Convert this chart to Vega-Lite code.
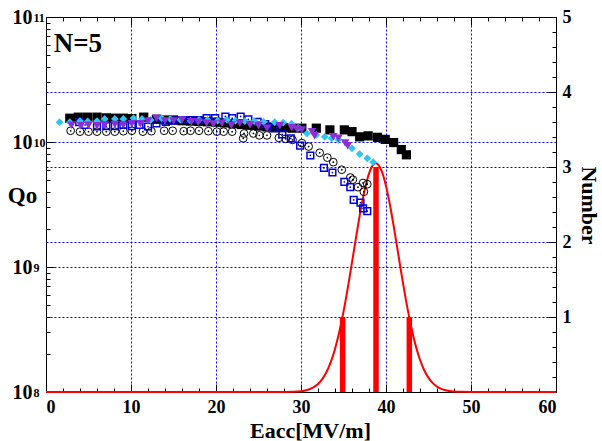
{
  "$schema": "https://vega.github.io/schema/vega-lite/v6.json",
  "width": 510,
  "height": 375,
  "autosize": {"type": "none"},
  "padding": {"left": 46, "top": 17, "right": 46, "bottom": 49},
  "background": "white",
  "config": {
    "view": {"stroke": "black", "strokeWidth": 1},
    "axis": {
      "labelFont": "Liberation Serif", "labelFontWeight": "bold", "labelColor": "black", "labelFontSize": 18,
      "titleFont": "Liberation Serif", "titleFontWeight": "bold", "titleColor": "black", "titleFontSize": 23,
      "tickColor": "black", "tickWidth": 1, "domain": false,
      "gridColor": "#0000ff", "gridDash": [2, 2], "gridWidth": 1, "gridOpacity": 1
    }
  },
  "datasets": {
    "sq": [
      {"E": 2.8, "Q": 1.55e10}, {"E": 3.8, "Q": 1.58e10}, {"E": 4.9, "Q": 1.58e10}, {"E": 6.0, "Q": 1.58e10},
      {"E": 7.1, "Q": 1.56e10}, {"E": 8.1, "Q": 1.55e10}, {"E": 9.1, "Q": 1.55e10}, {"E": 10.1, "Q": 1.54e10},
      {"E": 11.5, "Q": 1.58e10}, {"E": 13.0, "Q": 1.52e10}, {"E": 14.1, "Q": 1.5e10}, {"E": 15.0, "Q": 1.5e10},
      {"E": 16.0, "Q": 1.48e10}, {"E": 17.0, "Q": 1.47e10}, {"E": 18.0, "Q": 1.46e10}, {"E": 19.0, "Q": 1.45e10},
      {"E": 20.0, "Q": 1.44e10}, {"E": 21.0, "Q": 1.42e10}, {"E": 22.0, "Q": 1.4e10}, {"E": 23.0, "Q": 1.38e10},
      {"E": 24.0, "Q": 1.36e10}, {"E": 25.0, "Q": 1.34e10}, {"E": 26.0, "Q": 1.32e10}, {"E": 27.0, "Q": 1.3e10},
      {"E": 28.0, "Q": 1.3e10}, {"E": 29.0, "Q": 1.29e10}, {"E": 30.1, "Q": 1.29e10}, {"E": 31.8, "Q": 1.29e10},
      {"E": 33.4, "Q": 1.25e10}, {"E": 35.1, "Q": 1.25e10}, {"E": 36.0, "Q": 1.21e10}, {"E": 36.9, "Q": 1.1e10},
      {"E": 37.9, "Q": 1.12e10}, {"E": 39.0, "Q": 1.09e10}, {"E": 39.9, "Q": 1.05e10}, {"E": 40.9, "Q": 9.9e9},
      {"E": 41.8, "Q": 8.7e9}, {"E": 42.4, "Q": 7.9e9}
    ],
    "circ": [
      {"E": 2.9, "Q": 1.23e10}, {"E": 4.0, "Q": 1.21e10}, {"E": 5.0, "Q": 1.21e10}, {"E": 6.0, "Q": 1.21e10},
      {"E": 7.1, "Q": 1.21e10}, {"E": 8.1, "Q": 1.21e10}, {"E": 9.1, "Q": 1.22e10}, {"E": 10.1, "Q": 1.23e10},
      {"E": 11.4, "Q": 1.21e10}, {"E": 12.4, "Q": 1.22e10}, {"E": 13.9, "Q": 1.23e10}, {"E": 14.9, "Q": 1.23e10},
      {"E": 16.2, "Q": 1.22e10}, {"E": 17.0, "Q": 1.23e10}, {"E": 18.0, "Q": 1.23e10}, {"E": 19.1, "Q": 1.22e10},
      {"E": 20.1, "Q": 1.21e10}, {"E": 20.9, "Q": 1.21e10}, {"E": 21.9, "Q": 1.21e10}, {"E": 23.2, "Q": 1.07e10},
      {"E": 23.3, "Q": 1.17e10}, {"E": 24.4, "Q": 1.17e10}, {"E": 25.1, "Q": 1.13e10}, {"E": 26.0, "Q": 1.13e10},
      {"E": 27.4, "Q": 1.08e10}, {"E": 28.2, "Q": 1.06e10}, {"E": 29.0, "Q": 1.04e10}, {"E": 30.1, "Q": 9.8e9},
      {"E": 30.9, "Q": 9.2e9}, {"E": 32.2, "Q": 8.2e9}, {"E": 33.1, "Q": 7.5e9}, {"E": 33.8, "Q": 6.9e9},
      {"E": 34.8, "Q": 6.0e9}, {"E": 35.8, "Q": 5.2e9}, {"E": 36.1, "Q": 5.0e9}, {"E": 36.7, "Q": 4.35e9},
      {"E": 37.3, "Q": 4.7e9}, {"E": 37.8, "Q": 4.6e9}, {"E": 37.4, "Q": 4.0e9}
    ],
    "bsq": [
      {"E": 3.9, "Q": 1.44e10}, {"E": 4.6, "Q": 1.37e10}, {"E": 6.0, "Q": 1.33e10}, {"E": 7.1, "Q": 1.34e10},
      {"E": 8.1, "Q": 1.34e10}, {"E": 9.1, "Q": 1.37e10}, {"E": 10.1, "Q": 1.34e10}, {"E": 11.0, "Q": 1.37e10},
      {"E": 12.0, "Q": 1.33e10}, {"E": 13.0, "Q": 1.41e10}, {"E": 14.1, "Q": 1.45e10}, {"E": 15.0, "Q": 1.48e10},
      {"E": 16.1, "Q": 1.5e10}, {"E": 17.1, "Q": 1.5e10}, {"E": 18.0, "Q": 1.5e10}, {"E": 18.9, "Q": 1.55e10},
      {"E": 19.9, "Q": 1.55e10}, {"E": 21.1, "Q": 1.6e10}, {"E": 21.9, "Q": 1.55e10}, {"E": 22.9, "Q": 1.6e10},
      {"E": 23.8, "Q": 1.52e10}, {"E": 24.9, "Q": 1.45e10}, {"E": 25.8, "Q": 1.39e10}, {"E": 26.8, "Q": 1.29e10},
      {"E": 27.8, "Q": 1.15e10}, {"E": 28.8, "Q": 1.07e10}, {"E": 29.9, "Q": 9.35e9}, {"E": 31.1, "Q": 7.8e9},
      {"E": 32.7, "Q": 6.2e9}, {"E": 33.7, "Q": 5.7e9}, {"E": 35.1, "Q": 4.8e9}, {"E": 35.8, "Q": 4.35e9},
      {"E": 36.2, "Q": 3.44e9}, {"E": 37.0, "Q": 3.27e9}, {"E": 37.3, "Q": 2.95e9}, {"E": 37.8, "Q": 2.8e9}
    ],
    "tri": [
      {"E": 3.0, "Q": 1.36e10}, {"E": 4.1, "Q": 1.35e10}, {"E": 5.0, "Q": 1.36e10}, {"E": 6.0, "Q": 1.35e10},
      {"E": 6.9, "Q": 1.37e10}, {"E": 8.1, "Q": 1.38e10}, {"E": 9.1, "Q": 1.37e10}, {"E": 10.1, "Q": 1.4e10},
      {"E": 11.1, "Q": 1.4e10}, {"E": 12.0, "Q": 1.47e10}, {"E": 13.0, "Q": 1.55e10}, {"E": 14.0, "Q": 1.47e10},
      {"E": 15.0, "Q": 1.47e10}, {"E": 16.0, "Q": 1.5e10}, {"E": 17.1, "Q": 1.45e10}, {"E": 17.9, "Q": 1.44e10},
      {"E": 18.9, "Q": 1.41e10}, {"E": 19.7, "Q": 1.39e10}, {"E": 20.7, "Q": 1.41e10}, {"E": 21.8, "Q": 1.36e10},
      {"E": 22.8, "Q": 1.41e10}, {"E": 24.0, "Q": 1.37e10}, {"E": 25.0, "Q": 1.35e10}, {"E": 26.0, "Q": 1.29e10},
      {"E": 27.5, "Q": 1.35e10}, {"E": 28.9, "Q": 1.3e10}, {"E": 29.5, "Q": 1.27e10}, {"E": 30.1, "Q": 1.25e10},
      {"E": 31.3, "Q": 1.21e10}, {"E": 31.6, "Q": 1.12e10}, {"E": 33.8, "Q": 1.1e10}, {"E": 34.4, "Q": 1.07e10},
      {"E": 35.2, "Q": 9.8e9}, {"E": 35.5, "Q": 9.35e9}
    ],
    "dia": [
      {"E": 1.6, "Q": 1.44e10}, {"E": 2.8, "Q": 1.44e10}, {"E": 4.0, "Q": 1.47e10}, {"E": 4.9, "Q": 1.46e10},
      {"E": 6.0, "Q": 1.47e10}, {"E": 6.9, "Q": 1.53e10}, {"E": 8.1, "Q": 1.53e10}, {"E": 9.1, "Q": 1.53e10},
      {"E": 10.3, "Q": 1.55e10}, {"E": 11.3, "Q": 1.53e10}, {"E": 12.3, "Q": 1.5e10}, {"E": 13.6, "Q": 1.55e10},
      {"E": 14.6, "Q": 1.53e10}, {"E": 15.8, "Q": 1.51e10}, {"E": 17.0, "Q": 1.48e10}, {"E": 18.0, "Q": 1.5e10},
      {"E": 19.0, "Q": 1.5e10}, {"E": 20.2, "Q": 1.48e10}, {"E": 21.3, "Q": 1.5e10}, {"E": 22.3, "Q": 1.48e10},
      {"E": 23.4, "Q": 1.47e10}, {"E": 24.5, "Q": 1.47e10}, {"E": 25.6, "Q": 1.45e10}, {"E": 26.9, "Q": 1.44e10},
      {"E": 27.9, "Q": 1.43e10}, {"E": 28.9, "Q": 1.4e10}, {"E": 29.7, "Q": 1.3e10}, {"E": 30.7, "Q": 1.17e10},
      {"E": 31.8, "Q": 1.14e10}, {"E": 32.8, "Q": 1.1e10}, {"E": 33.6, "Q": 1.07e10}, {"E": 34.4, "Q": 1.04e10},
      {"E": 36.0, "Q": 8.9e9}, {"E": 36.9, "Q": 8.0e9}, {"E": 37.8, "Q": 7.4e9}, {"E": 38.5, "Q": 6.9e9}
    ],
    "hist": [{"E": 35, "N": 1}, {"E": 39, "N": 3}, {"E": 43, "N": 1}],
    "fit": [
      {"E": 0, "N": 0}, {"E": 10, "N": 0}, {"E": 20, "N": 0}, {"E": 27, "N": 0}, {"E": 28, "N": 0.0007},
      {"E": 29, "N": 0.003}, {"E": 30, "N": 0.011}, {"E": 30.5, "N": 0.021}, {"E": 31, "N": 0.037},
      {"E": 31.5, "N": 0.064}, {"E": 32, "N": 0.107}, {"E": 32.5, "N": 0.172}, {"E": 33, "N": 0.266},
      {"E": 33.5, "N": 0.398}, {"E": 34, "N": 0.574}, {"E": 34.5, "N": 0.799}, {"E": 35, "N": 1.071},
      {"E": 35.5, "N": 1.385}, {"E": 36, "N": 1.728}, {"E": 36.5, "N": 2.079}, {"E": 37, "N": 2.412},
      {"E": 37.5, "N": 2.698}, {"E": 38, "N": 2.912}, {"E": 38.5, "N": 3.03}, {"E": 38.8, "N": 3.05},
      {"E": 39, "N": 3.041}, {"E": 39.5, "N": 2.944}, {"E": 40, "N": 2.748}, {"E": 40.5, "N": 2.474},
      {"E": 41, "N": 2.148}, {"E": 41.5, "N": 1.798}, {"E": 42, "N": 1.452}, {"E": 42.5, "N": 1.131},
      {"E": 43, "N": 0.849}, {"E": 43.5, "N": 0.615}, {"E": 44, "N": 0.43}, {"E": 44.5, "N": 0.29},
      {"E": 45, "N": 0.188}, {"E": 45.5, "N": 0.118}, {"E": 46, "N": 0.071}, {"E": 46.5, "N": 0.042},
      {"E": 47, "N": 0.023}, {"E": 48, "N": 0.007}, {"E": 49, "N": 0.002}, {"E": 50, "N": 0}, {"E": 60, "N": 0}
    ],
    "lab": [{"E": 0.9, "Q": 5.2e10, "label": "N=5"}]
  },
  "resolve": {"scale": {"x": "independent", "y": "independent"}},
  "layer": [
    {
      "data": {"name": "hist"},
      "mark": {"type": "bar", "width": 5.5, "color": "#ff0000"},
      "encoding": {
        "x": {"field": "E", "type": "quantitative", "scale": {"domain": [0, 60], "nice": false, "zero": false}, "axis": null},
        "y": {"field": "N", "type": "quantitative", "scale": {"domain": [0, 5], "nice": false},
          "axis": {"orient": "right", "values": [1, 2, 3, 4, 5], "grid": true, "tickSize": -8, "labelPadding": 14,
            "title": "Number", "titleAngle": 90, "titleX": 32, "titleY": 188, "titleAlign": "center", "titleBaseline": "middle", "titleFontSize": 22,
            "gridOpacity": {"condition": {"test": "datum.value >= 5", "value": 0}, "value": 1}}}
      }
    },
    {
      "data": {"name": "fit"},
      "mark": {"type": "line", "color": "#ff0000", "strokeWidth": 2, "interpolate": "monotone"},
      "encoding": {
        "x": {"field": "E", "type": "quantitative", "scale": {"domain": [0, 60], "nice": false, "zero": false}, "axis": null},
        "y": {"field": "N", "type": "quantitative", "scale": {"domain": [0, 5], "nice": false},
          "axis": {"orient": "right", "values": [0.2, 0.4, 0.6, 0.8, 1.2, 1.4, 1.6, 1.8, 2.2, 2.4, 2.6, 2.8, 3.2, 3.4, 3.6, 3.8, 4.2, 4.4, 4.6, 4.8],
            "tickSize": -4, "labels": false, "grid": false, "title": null}}
      }
    },
    {
      "data": {"name": "sq"},
      "mark": {"type": "square", "filled": true, "color": "black", "size": 85, "opacity": 1},
      "encoding": {
        "x": {"field": "E", "type": "quantitative", "scale": {"domain": [0, 60], "nice": false, "zero": false},
          "axis": {"orient": "bottom", "values": [0, 10, 20, 30, 40, 50, 60], "grid": true, "tickSize": -8, "labelPadding": 14,
            "title": "Eacc[MV/m]", "titleFontSize": 22, "titleX": 264, "titleY": 45, "titleBaseline": "alphabetic", "titleAlign": "center",
            "gridOpacity": {"condition": {"test": "datum.value <= 0 || datum.value >= 60", "value": 0}, "value": 1}}},
        "y": {"field": "Q", "type": "quantitative", "scale": {"type": "log", "domain": [1e8, 1e11], "nice": false},
          "axis": {"orient": "left", "values": [1e8, 1e9, 1e10, 1e11], "labelExpr": "'10'", "labelFontSize": 20, "grid": true, "tickSize": -8, "labelPadding": 22,
            "title": "Qo", "titleAngle": 0, "titleX": -24, "titleY": 178, "titleAlign": "center", "titleBaseline": "middle",
            "gridOpacity": {"condition": {"test": "datum.value <= 2e8 || datum.value >= 5e10", "value": 0}, "value": 1}}}
      }
    },
    {
      "data": {"name": "circ"},
      "mark": {"type": "point", "shape": "circle", "filled": false, "color": "black", "size": 60, "strokeWidth": 1, "opacity": 1},
      "encoding": {
        "x": {"field": "E", "type": "quantitative", "scale": {"domain": [0, 60], "nice": false, "zero": false},
          "axis": {"orient": "bottom", "values": [2, 4, 6, 8, 12, 14, 16, 18, 22, 24, 26, 28, 32, 34, 36, 38, 42, 44, 46, 48, 52, 54, 56, 58],
            "tickSize": -4, "labels": false, "grid": false, "title": null}},
        "y": {"field": "Q", "type": "quantitative", "scale": {"type": "log", "domain": [1e8, 1e11], "nice": false},
          "axis": {"orient": "left", "values": [2e8, 3e8, 4e8, 5e8, 6e8, 7e8, 8e8, 9e8, 2e9, 3e9, 4e9, 5e9, 6e9, 7e9, 8e9, 9e9, 2e10, 3e10, 4e10, 5e10, 6e10, 7e10, 8e10, 9e10],
            "tickSize": -4, "labels": false, "grid": false, "title": null}}
      }
    },
    {
      "data": {"name": "circ"},
      "mark": {"type": "point", "shape": "circle", "filled": true, "color": "black", "size": 3, "opacity": 1},
      "encoding": {
        "x": {"field": "E", "type": "quantitative", "scale": {"domain": [0, 60], "nice": false, "zero": false}, "axis": null},
        "y": {"field": "Q", "type": "quantitative", "scale": {"type": "log", "domain": [1e8, 1e11], "nice": false}, "axis": null}
      }
    },
    {
      "data": {"name": "bsq"},
      "mark": {"type": "point", "shape": "square", "filled": false, "color": "#0000dd", "size": 45, "strokeWidth": 1.5, "opacity": 1},
      "encoding": {
        "x": {"field": "E", "type": "quantitative", "scale": {"domain": [0, 60], "nice": false, "zero": false},
          "axis": {"orient": "top", "values": [10, 20, 30, 40, 50], "tickSize": -8, "labels": false, "grid": false, "title": null}},
        "y": {"field": "Q", "type": "quantitative", "scale": {"type": "log", "domain": [1e8, 1e11], "nice": false},
          "axis": {"orient": "left", "values": [1e8, 1e9, 1e10, 1e11], "ticks": false, "grid": false, "title": null,
            "labelExpr": "datum.value >= 5e10 ? '11' : datum.value >= 5e9 ? '10' : datum.value >= 5e8 ? '9' : '8'",
            "labelFontSize": 12, "labelAlign": "left", "labelPadding": 13, "labelDy": -8}}
      }
    },
    {
      "data": {"name": "bsq"},
      "mark": {"type": "point", "shape": "circle", "filled": true, "color": "#0000dd", "size": 3, "opacity": 1},
      "encoding": {
        "x": {"field": "E", "type": "quantitative", "scale": {"domain": [0, 60], "nice": false, "zero": false}, "axis": null},
        "y": {"field": "Q", "type": "quantitative", "scale": {"type": "log", "domain": [1e8, 1e11], "nice": false}, "axis": null}
      }
    },
    {
      "data": {"name": "dia"},
      "mark": {"type": "point", "shape": "diamond", "filled": true, "color": "#2ec5f2", "size": 60, "opacity": 1},
      "encoding": {
        "x": {"field": "E", "type": "quantitative", "scale": {"domain": [0, 60], "nice": false, "zero": false}, "axis": null},
        "y": {"field": "Q", "type": "quantitative", "scale": {"type": "log", "domain": [1e8, 1e11], "nice": false}, "axis": null}
      }
    },
    {
      "data": {"name": "tri"},
      "mark": {"type": "point", "shape": "triangle-down", "filled": true, "color": "#8a2fd4", "size": 75, "opacity": 1},
      "encoding": {
        "x": {"field": "E", "type": "quantitative", "scale": {"domain": [0, 60], "nice": false, "zero": false},
          "axis": {"orient": "top", "values": [2, 4, 6, 8, 12, 14, 16, 18, 22, 24, 26, 28, 32, 34, 36, 38, 42, 44, 46, 48, 52, 54, 56, 58],
            "tickSize": -4, "labels": false, "grid": false, "title": null}},
        "y": {"field": "Q", "type": "quantitative", "scale": {"type": "log", "domain": [1e8, 1e11], "nice": false}, "axis": null}
      }
    },
    {
      "data": {"name": "lab"},
      "mark": {"type": "text", "font": "Liberation Serif", "fontWeight": "bold", "fontSize": 27, "align": "left", "baseline": "alphabetic", "color": "black"},
      "encoding": {
        "x": {"field": "E", "type": "quantitative", "scale": {"domain": [0, 60], "nice": false, "zero": false}, "axis": null},
        "y": {"field": "Q", "type": "quantitative", "scale": {"type": "log", "domain": [1e8, 1e11], "nice": false}, "axis": null},
        "text": {"field": "label"}
      }
    }
  ]
}
